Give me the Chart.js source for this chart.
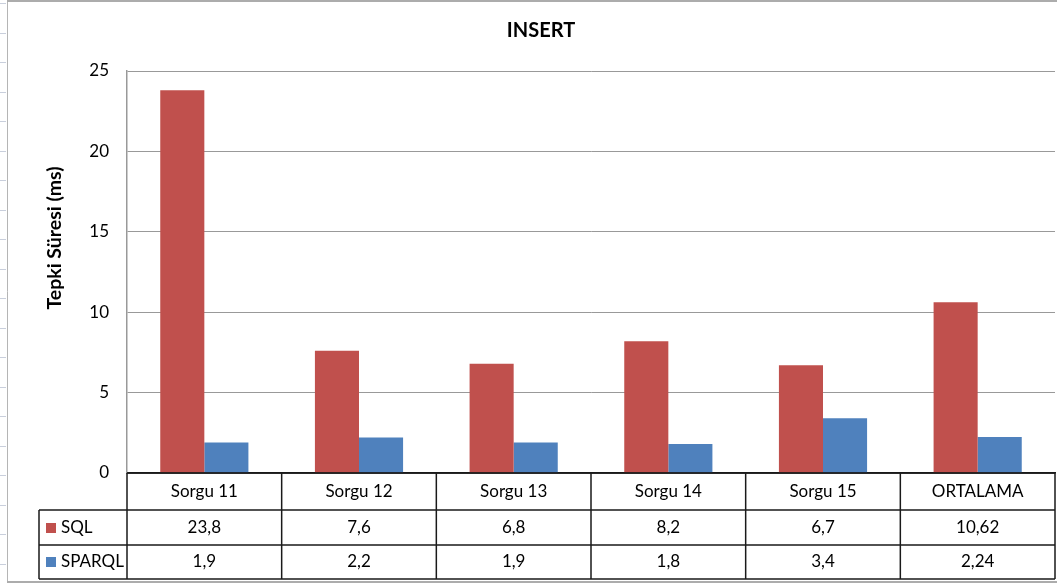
<!DOCTYPE html>
<html>
<head>
<meta charset="utf-8">
<script src="https://cdn.jsdelivr.net/npm/chart.js@4.4.0/dist/chart.umd.min.js"></script>
<style>
  html, body { margin: 0; padding: 0; background: #fff; }
  canvas { display: block; }
</style>
</head>
<body>
<canvas id="chart" width="1057" height="583"></canvas>
<script>
const categories = ["Sorgu 11", "Sorgu 12", "Sorgu 13", "Sorgu 14", "Sorgu 15", "ORTALAMA"];
const sqlValues = [23.8, 7.6, 6.8, 8.2, 6.7, 10.62];
const sparqlValues = [1.9, 2.2, 1.9, 1.8, 3.4, 2.24];
const seriesNames = ["SQL", "SPARQL"];
const seriesColors = ["#C0504D", "#4F81BD"];
const yMax = 25;
const yStep = 5;

const FONT = "Lato, 'Noto Sans', sans-serif";

function fmt(v) {
  return String(v).replace(".", ",");
}

// sheet frame + data table under the plot, drawn from the x scale
const dataTable = {
  id: "dataTable",
  beforeDraw(chart) {
    const ctx = chart.ctx;
    ctx.save();
    ctx.fillStyle = "#fff";
    ctx.fillRect(0, 0, chart.width, chart.height);
    ctx.strokeStyle = "#c9cfdc";
    ctx.lineWidth = 1;
    for (let y = 3; y < chart.height; y += 29.5) {
      ctx.beginPath();
      ctx.moveTo(0, Math.round(y) + 0.5);
      ctx.lineTo(6, Math.round(y) + 0.5);
      ctx.stroke();
    }
    ctx.strokeStyle = "#b5b5b5";
    ctx.beginPath();
    ctx.moveTo(7.5, 0);
    ctx.lineTo(7.5, chart.height);
    ctx.stroke();
    ctx.lineWidth = 2;
    ctx.strokeStyle = "#acacac";
    ctx.beginPath();
    ctx.moveTo(7, 1);
    ctx.lineTo(chart.width, 1);
    ctx.moveTo(7, 582);
    ctx.lineTo(chart.width, 582);
    ctx.stroke();
    ctx.restore();
  },
  afterDraw(chart) {
    const ctx = chart.ctx;
    const x = chart.scales.x;
    const area = chart.chartArea;
    const top = area.bottom;
    const rows = [top, top + 37, top + 72, top + 106];
    const tableLeft = 39;
    const n = categories.length;
    const bounds = [x.left];
    for (let i = 1; i < n; i++) {
      bounds.push((x.getPixelForValue(i - 1) + x.getPixelForValue(i)) / 2);
    }
    bounds.push(x.right);

    ctx.save();
    ctx.strokeStyle = "#1a1a1a";
    ctx.lineWidth = 1.5;
    ctx.beginPath();
    ctx.moveTo(x.left, rows[0]);
    ctx.lineTo(x.right, rows[0]);
    for (let r = 1; r < rows.length; r++) {
      ctx.moveTo(tableLeft, rows[r]);
      ctx.lineTo(x.right, rows[r]);
    }
    ctx.moveTo(tableLeft, rows[1]);
    ctx.lineTo(tableLeft, rows[3]);
    bounds.forEach(b => {
      ctx.moveTo(b, rows[0]);
      ctx.lineTo(b, rows[3]);
    });
    ctx.stroke();

    // series rows
    const seriesValues = [sqlValues, sparqlValues];
    ctx.font = "17px " + FONT;
    ctx.textBaseline = "middle";
    seriesNames.forEach((name, s) => {
      const cy = (rows[s + 1] + rows[s + 2]) / 2;
      ctx.fillStyle = seriesColors[s];
      ctx.fillRect(46, Math.round(cy) - 5, 10, 10);
      ctx.fillStyle = "#000";
      ctx.textAlign = "left";
      ctx.fillText(name, 61, cy);
      ctx.textAlign = "center";
      seriesValues[s].forEach((v, i) => {
        ctx.fillText(fmt(v), x.getPixelForValue(i), cy);
      });
    });

    // titles
    ctx.fillStyle = "#000";
    ctx.font = "bold 20px " + FONT;
    ctx.textAlign = "center";
    ctx.fillText("INSERT", 541, 31);
    ctx.translate(55, 238);
    ctx.rotate(-Math.PI / 2);
    ctx.font = "bold 19.5px " + FONT;
    ctx.fillText("Tepki Süresi (ms)", 0, 0);
    ctx.restore();
  }
};

new Chart(document.getElementById("chart"), {
  type: "bar",
  data: {
    labels: categories,
    datasets: [
      { label: seriesNames[0], data: sqlValues, backgroundColor: seriesColors[0] },
      { label: seriesNames[1], data: sparqlValues, backgroundColor: seriesColors[1] }
    ]
  },
  options: {
    responsive: false,
    animation: false,
    layout: { padding: { top: 71, right: 2, bottom: 0, left: 0 } },
    categoryPercentage: 0.57,
    barPercentage: 1.0,
    plugins: {
      legend: { display: false },
      title: { display: false },
      tooltip: { enabled: false }
    },
    scales: {
      x: {
        grid: { display: false, drawTicks: false },
        border: { color: "#1a1a1a", width: 1.5 },
        ticks: { color: "#000", font: { family: FONT, size: 17 }, padding: 8, maxRotation: 0 },
        afterFit(scale) { scale.height = 110; }
      },
      y: {
        min: 0,
        max: yMax,
        ticks: { stepSize: yStep, color: "#000", font: { family: FONT, size: 17 }, padding: 18 },
        grid: { color: "#999", lineWidth: 1, drawTicks: false },
        border: { color: "#999", width: 1.5 },
        afterFit(scale) { scale.width = 127; }
      }
    }
  },
  plugins: [dataTable]
});
</script>
</body>
</html>
